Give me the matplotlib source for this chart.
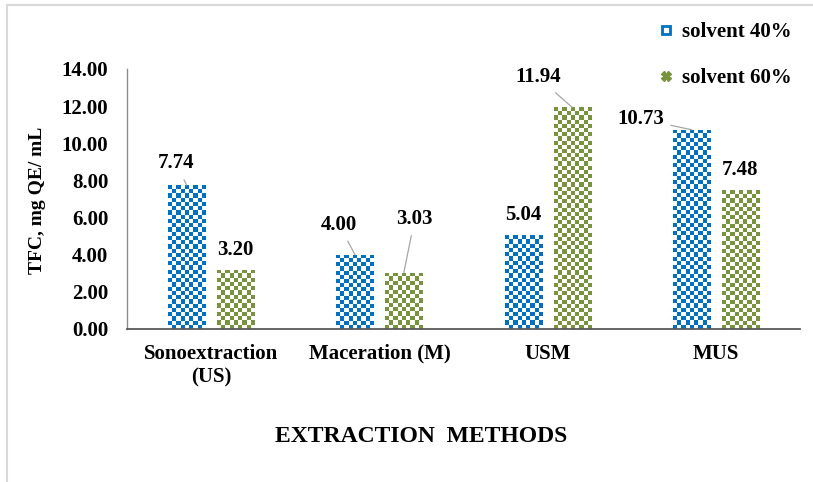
import numpy as np
import matplotlib
matplotlib.use("Agg")
import matplotlib.pyplot as plt
from matplotlib.colors import ListedColormap
from matplotlib.lines import Line2D

methods = ["Sonoextraction\n(US)", "Maceration (M)", "USM", "MUS"]
solvent_40 = [7.74, 4.00, 5.04, 10.73]
solvent_60 = [3.20, 3.03, 11.94, 7.48]
series_names = ["solvent 40%", "solvent 60%"]
yticks = [0, 2, 4, 6, 8, 10, 12, 14]

BLUE = "#0070C0"
GREEN = "#77933C"

# label placement in pixels relative to the bar top; None = plain label above
label_offsets_40 = [(-11, 22), (-16, 30), None, (-51, 11)]
label_offsets_60 = [None, (11, 54), (-34, 30), None]

plt.rcParams["font.family"] = ["Liberation Serif", "DejaVu Serif"]
plt.rcParams["font.weight"] = "bold"

fig = plt.figure(figsize=(8.13, 4.82), dpi=100)
ax = fig.add_axes([127 / 813, 1 - 329 / 482, (800 - 127) / 813, (329 - 69) / 482])

x = np.arange(len(methods))
w = 0.22
off = 0.145
ax.set_xlim(-0.5, len(methods) - 0.5)
ax.set_ylim(0, 14)

bars40 = ax.bar(x - off, solvent_40, w, facecolor="none", edgecolor="none")
bars60 = ax.bar(x + off, solvent_60, w, facecolor="none", edgecolor="none")


def checker(bars, color):
    cmap = ListedColormap(["white", color])
    for p in bars:
        bx, by, bw, bh = p.get_x(), p.get_y(), p.get_width(), p.get_height()
        (px0, py0), (px1, py1) = ax.transData.transform([(bx, by), (bx + bw, by + bh)])
        ncol = max(1, int(round((px1 - px0) / 4.2)))
        nrow = max(1, int(round((py1 - py0) / 4.2)))
        ii, jj = np.indices((nrow, ncol))
        arr = (ii + jj + 1) % 2
        im = ax.imshow(arr, extent=[bx, bx + bw, by, by + bh], origin="upper",
                       cmap=cmap, vmin=0, vmax=1, interpolation="nearest",
                       aspect="auto", zorder=2)
        im.set_clip_path(p)


checker(bars40, BLUE)
checker(bars60, GREEN)
ax.set_xlim(-0.5, len(methods) - 0.5)
ax.set_ylim(0, 14)


def value_labels(bars, vals, offsets):
    for p, v, o in zip(bars, vals, offsets):
        cx = p.get_x() + p.get_width() / 2
        if o is None:
            ax.annotate(f"{v:.2f}", (cx, v), xytext=(0, 20), textcoords="offset pixels",
                        ha="center", va="center", fontsize=15, fontweight="bold")
        else:
            ax.annotate(f"{v:.2f}", (cx, v), xytext=o, textcoords="offset pixels",
                        ha="center", va="center", fontsize=15, fontweight="bold",
                        arrowprops=dict(arrowstyle="-", color="#A6A6A6", lw=0.9,
                                        shrinkA=3, shrinkB=0))


value_labels(bars40, solvent_40, label_offsets_40)
value_labels(bars60, solvent_60, label_offsets_60)

ax.set_yticks(yticks)
ax.set_yticklabels([f"{t:.2f}" for t in yticks], fontsize=15, fontweight="bold")
ax.set_xticks(x)
ax.set_xticklabels(methods, fontsize=15, fontweight="bold", linespacing=1.25)
ax.tick_params(axis="y", length=0, pad=13.5)
ax.tick_params(axis="x", length=0, pad=10.5)

for s in ["top", "right"]:
    ax.spines[s].set_visible(False)
ax.spines["left"].set_color("#8C8C8C")
ax.spines["left"].set_linewidth(1.0)
ax.spines["bottom"].set_color("#595959")
ax.spines["bottom"].set_linewidth(1.3)

fig.text(37 / 813, 1 - 200 / 482, "TFC, mg QE/ mL", rotation=90, ha="center",
         va="center", fontsize=14, fontweight="bold")
fig.text(421 / 813, 1 - 436 / 482, "EXTRACTION  METHODS", ha="center",
         va="center", fontsize=17, fontweight="bold")

handles = [
    Line2D([], [], linestyle="none", marker="s", markersize=6, markerfacecolor="white",
           markeredgecolor=BLUE, markeredgewidth=2),
    Line2D([], [], linestyle="none", marker="X", markersize=7, color=GREEN),
]
fig.legend(handles, series_names, loc="upper left", bbox_to_anchor=(659 / 813, 1 - 22 / 482),
           frameon=False, borderpad=0, borderaxespad=0, handlelength=0.7,
           handletextpad=0.4, labelspacing=1.25, prop=dict(size=15, weight="bold"))

# thin grey border on the left and top of the canvas
fig.add_artist(Line2D([7 / 813, 7 / 813], [0, 1 - 5 / 482], transform=fig.transFigure,
                      color="#D9D9D9", lw=1.5))
fig.add_artist(Line2D([7 / 813, 1], [1 - 5 / 482, 1 - 5 / 482], transform=fig.transFigure,
                      color="#D9D9D9", lw=1.5))

fig.savefig("out.png", dpi=100)
